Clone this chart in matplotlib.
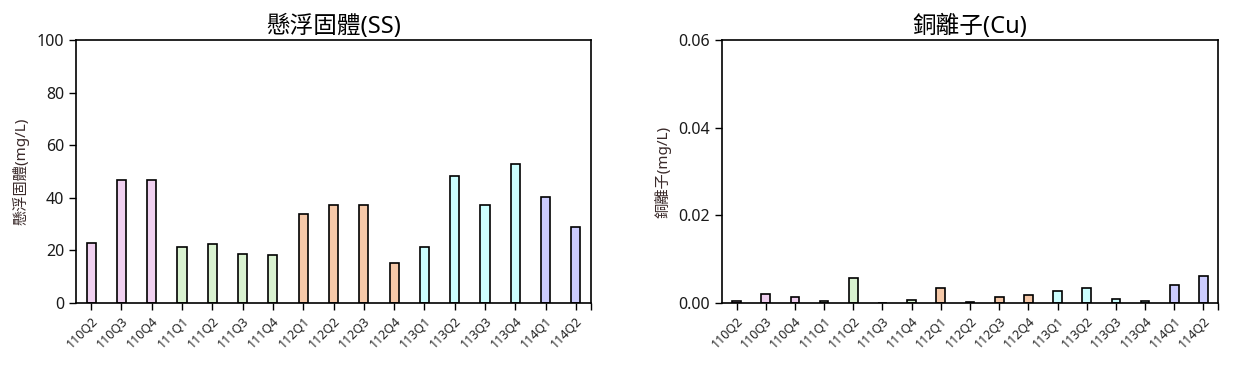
import numpy as np
import matplotlib.pyplot as plt

plt.rcParams['font.family'] = ['Noto Sans', 'Noto Sans CJK TC', 'DejaVu Sans']

quarters = ['110Q2', '110Q3', '110Q4', '111Q1', '111Q2', '111Q3', '111Q4',
            '112Q1', '112Q2', '112Q3', '112Q4', '113Q1', '113Q2', '113Q3',
            '113Q4', '114Q1', '114Q2']
ss_values = [22.8, 46.8, 46.8, 21.3, 22.4, 18.6, 18.3, 33.8, 37.3, 37.3,
             15.2, 21.3, 48.3, 37.3, 52.9, 40.3, 28.9]
cu_values = [0.0005, 0.0021, 0.0014, 0.0005, 0.0057, 0.0, 0.0007, 0.0034,
             0.0002, 0.0014, 0.0018, 0.0027, 0.0034, 0.0009, 0.0005, 0.0041,
             0.0062]
year_colors = {'110': '#f0d0f0', '111': '#d9f2d0', '112': '#f5c8a8',
               '113': '#ccffff', '114': '#ccccff'}
bar_colors = [year_colors[q[:3]] for q in quarters]

fig = plt.figure(figsize=(12.56, 3.69), dpi=100)
ax1 = fig.add_axes([76 / 1256, 1 - 303 / 369, 515 / 1256, 263 / 369])
ax2 = fig.add_axes([722 / 1256, 1 - 303 / 369, 496 / 1256, 263 / 369])


def draw_panel(ax, values, title, ylabel, ylim, yticks, fmt):
    x = np.arange(len(quarters))
    ax.bar(x, values, width=0.3, color=bar_colors, edgecolor='black', linewidth=1.2)
    ax.set_xlim(-0.5, len(quarters) - 0.5)
    ax.set_ylim(*ylim)
    ax.set_yticks(yticks)
    ax.set_yticklabels([fmt.format(v) for v in yticks], fontsize=11.5, color='#1a1a1a')
    ax.set_xticks(x)
    ax.set_xticklabels(quarters, rotation=45, ha='right', rotation_mode='anchor',
                       fontsize=9, color='#222222')
    ax.set_xticks([len(quarters) - 0.5], minor=True)
    ax.tick_params(axis='both', direction='out', length=5, width=1)
    ax.tick_params(axis='x', which='minor', direction='out', length=5, width=1)
    for s in ax.spines.values():
        s.set_linewidth(1.2)
    ax.set_title(title, fontsize=17, pad=5)
    ax.set_ylabel(ylabel, fontsize=11, color='#3a2a2a', labelpad=5)


draw_panel(ax1, ss_values, '懸浮固體(SS)', '懸浮固體(mg/L)', (0, 100),
           [0, 20, 40, 60, 80, 100], '{:.0f}')
draw_panel(ax2, cu_values, '銅離子(Cu)', '銅離子(mg/L)', (0, 0.06),
           [0.0, 0.02, 0.04, 0.06], '{:.2f}')

fig.savefig('out.png', dpi=100)
